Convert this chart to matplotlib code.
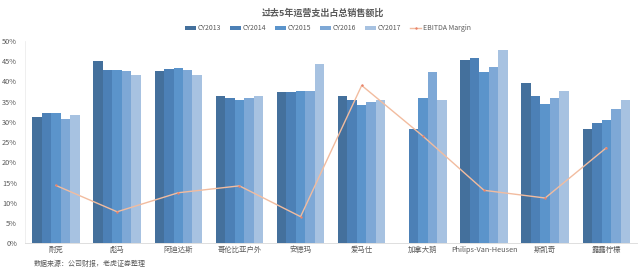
import numpy as np
import matplotlib
matplotlib.use("Agg")
import matplotlib.pyplot as plt
import matplotlib.ticker as tick

plt.rcParams['font.family'] = ['Noto Sans CJK SC', 'DejaVu Sans']

# data
companies = ['耐克', '彪马', '阿迪达斯', '哥伦比亚户外', '安德玛', '爱马仕',
             '加拿大鹅', 'Philips-Van-Heusen', '斯凯奇', '露露柠檬']
years = ['CY2013', 'CY2014', 'CY2015', 'CY2016', 'CY2017']
cy2013 = [31.3, 45.0, 42.6, 36.3, 37.3, 36.3, np.nan, 45.2, 39.6, 28.2]
cy2014 = [32.2, 42.8, 43.0, 35.9, 37.4, 35.3, 28.3, 45.9, 36.5, 29.8]
cy2015 = [32.2, 42.9, 43.2, 35.3, 37.6, 34.1, 35.9, 42.4, 34.3, 30.5]
cy2016 = [30.7, 42.5, 42.8, 35.8, 37.6, 35.0, 42.4, 43.5, 35.8, 33.2]
cy2017 = [31.6, 41.5, 41.7, 36.3, 44.3, 35.4, 35.3, 47.7, 37.7, 35.5]
ebitda = [14.3, 7.8, 12.5, 14.2, 6.6, 39.0, 26.5, 13.1, 11.2, 23.6]

colors = ['#44709c', '#4c80b6', '#5b94cb', '#7ea8d6', '#a7c2e1']
line_color = '#f2bc9f'
text_grey = '#595959'

fig = plt.figure(figsize=(6.41, 2.71), dpi=100)
ax = fig.add_axes([0.0396, 0.102, 0.954, 0.747])

x = np.arange(len(companies))
w = 0.155
series = [cy2013, cy2014, cy2015, cy2016, cy2017]
handles = []
for i, vals in enumerate(series):
    v = np.array(vals) / 100.0
    b = ax.bar(x + (i - 2) * w, v, width=w, color=colors[i], label=years[i], linewidth=0)
    handles.append(b)

ln, = ax.plot(x, np.array(ebitda) / 100.0, color=line_color, linewidth=1.0,
              marker='+', markersize=2, markeredgecolor='#e8826a', label='EBITDA Margin')
handles.append(ln)

ax.set_xlim(-0.5, len(companies) - 0.5)
ax.set_ylim(0, 0.5)
ax.set_yticks(np.arange(0, 0.51, 0.05))
ax.yaxis.set_major_formatter(tick.FuncFormatter(lambda v, p: '%d%%' % round(v * 100)))
ax.set_xticks(x)
ax.set_xticklabels(companies)
for lab in ax.get_xticklabels():
    lab.set_fontsize(5.3)
    lab.set_color(text_grey)
for lab in ax.get_yticklabels():
    lab.set_fontsize(5.3)
    lab.set_color(text_grey)
ax.tick_params(axis='x', length=0, pad=2)
ax.tick_params(axis='y', length=0, pad=6)

for s in ['top', 'right']:
    ax.spines[s].set_visible(False)
ax.spines['left'].set_color('#ededed')
ax.spines['left'].set_linewidth(0.6)
ax.spines['bottom'].set_color('#d9d9d9')
ax.spines['bottom'].set_linewidth(0.6)

fig.text(0.504, 0.952, '过去5年运营支出占总销售额比', ha='center', va='center',
         fontsize=6.5, fontweight='bold', color=text_grey)

leg = fig.legend(handles=handles, labels=years + ['EBITDA Margin'], loc='center',
                 bbox_to_anchor=(0.512, 0.895), ncol=6, frameon=False,
                 fontsize=5.0, handlelength=1.5, handleheight=0.5, columnspacing=1.3,
                 handletextpad=0.3)
for t in leg.get_texts():
    t.set_color(text_grey)

fig.text(0.052, 0.025, '数据来源：公司财报，老虎证券整理', ha='left', va='center',
         fontsize=5, color=text_grey)

fig.savefig('out.png', dpi=100)
